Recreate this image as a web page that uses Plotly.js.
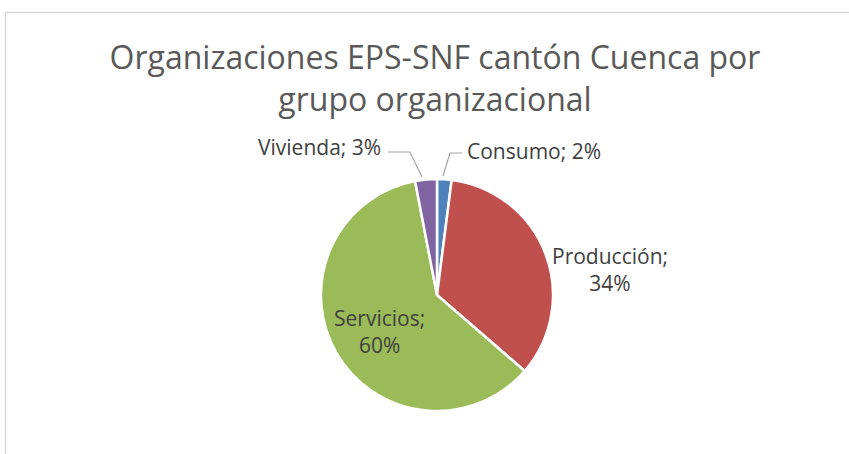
<!DOCTYPE html>
<html>
<head>
<meta charset="utf-8">
<script src="https://cdn.plot.ly/plotly-3.0.1.min.js"></script>
<style>html,body{margin:0;padding:0;background:#fff;}#chart{width:849px;height:454px;}</style>
</head>
<body>
<div id="chart"></div>
<script>
const categories = ["Consumo", "Producción", "Servicios", "Vivienda"];
const values = [2, 34, 60, 3];
const percentLabels = ["2%", "34%", "60%", "3%"];
const colors = ["#4F81BD", "#C0504D", "#9BBB59", "#8064A2"];

const W = 849, H = 454;
const px = x => x / W;
const py = y => 1 - y / H;

const trace = {
  type: "pie",
  labels: categories,
  values: values,
  sort: false,
  direction: "clockwise",
  rotation: 0,
  textinfo: "none",
  hoverinfo: "label+percent",
  marker: { colors: colors, line: { color: "#ffffff", width: 2.5 } },
  domain: { x: [px(321), px(553)], y: [py(411), py(179)] },
  showlegend: false
};

const labelFont = { family: "Open Sans, sans-serif", size: 21, color: "#404040" };
const labelPos = [
  { x: 465, y: 151, xanchor: "left", text: categories[0] + "; " + percentLabels[0] },
  { x: 610, y: 269, xanchor: "center", text: categories[1] + ";<br>" + percentLabels[1] },
  { x: 379, y: 331, xanchor: "center", text: categories[2] + ";<br>" + percentLabels[2] },
  { x: 383, y: 147, xanchor: "right", text: categories[3] + "; " + percentLabels[3] }
];
const annotations = labelPos.map(a => ({
  xref: "paper", yref: "paper", x: px(a.x), y: py(a.y), xanchor: a.xanchor, yanchor: "middle",
  text: a.text, showarrow: false, font: labelFont, align: "center"
}));

const leader = "#A6A6A6";
const shapes = [
  { type: "rect", xref: "paper", yref: "paper", x0: px(5.5), x1: px(860), y0: py(470), y1: py(12.5),
    line: { color: "#D9D9D9", width: 1.5 }, fillcolor: "rgba(0,0,0,0)", layer: "below" },
  { type: "path", xref: "paper", yref: "paper",
    path: `M ${px(443)} ${py(176)} L ${px(450)} ${py(153)} L ${px(462)} ${py(153)}`,
    line: { color: leader, width: 1.2 } },
  { type: "path", xref: "paper", yref: "paper",
    path: `M ${px(422)} ${py(177)} L ${px(410)} ${py(152)} L ${px(388)} ${py(152)}`,
    line: { color: leader, width: 1.2 } }
];

const layout = {
  width: W, height: H,
  margin: { l: 0, r: 0, t: 0, b: 0 },
  paper_bgcolor: "#ffffff",
  title: {
    text: "Organizaciones EPS-SNF cantón Cuenca por<br>grupo organizacional",
    font: { family: "Open Sans, sans-serif", size: 32, color: "#595959" },
    x: px(435), xanchor: "center",
    yref: "container", y: py(69), yanchor: "top"
  },
  annotations: annotations,
  shapes: shapes
};

Plotly.newPlot("chart", [trace], layout, { displayModeBar: false, staticPlot: true });
</script>
</body>
</html>
